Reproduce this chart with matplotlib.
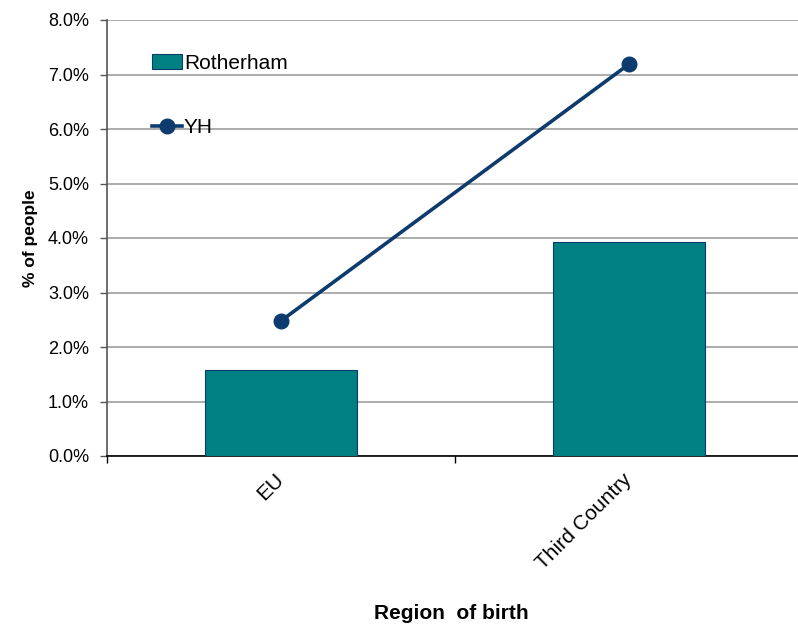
import numpy as np
import matplotlib.pyplot as plt
from matplotlib.ticker import FuncFormatter, FixedLocator

# Data
regions = ["EU", "Third Country"]
rotherham = [1.58, 3.93]
yh = [2.48, 7.19]

teal = "#008080"
navy = "#0D3B6E"
grid_grey = "#A6A6A6"
font = "Liberation Sans"

fig = plt.figure(figsize=(7.98, 6.26), dpi=100)
ax = fig.add_axes([107 / 798, 1 - 456 / 626, (803 - 107) / 798, (456 - 20) / 626])

x = np.arange(len(regions))
bars = ax.bar(x, rotherham, width=0.435, color=teal, edgecolor=navy, linewidth=0.8,
              label="Rotherham", zorder=3)
line, = ax.plot(x, yh, color=navy, linewidth=2.6, marker="o", markersize=10.5,
                label="YH", zorder=4)

ax.set_xlim(-0.5, 1.5)
ax.set_ylim(0, 8)
ax.set_yticks(np.arange(0, 8.01, 1))
ax.yaxis.set_major_formatter(FuncFormatter(lambda v, p: f"{v:.1f}%"))
ax.yaxis.grid(True, color=grid_grey, linewidth=1.3, zorder=0)
ax.set_axisbelow(True)

ax.set_xticks(x)
ax.set_xticklabels(regions, rotation=45, ha="right", va="center",
                   rotation_mode="anchor", fontsize=15, fontfamily=font)
ax.tick_params(axis="x", which="major", length=0, pad=15)
ax.xaxis.set_minor_locator(FixedLocator([-0.5, 0.5, 1.5]))
ax.tick_params(axis="x", which="minor", length=5, width=1, color="black")
ax.tick_params(axis="y", length=5, width=1, color="#555555",
               labelsize=13, pad=8)
for lab in ax.get_yticklabels():
    lab.set_fontfamily(font)

ax.spines["top"].set_visible(False)
ax.spines["right"].set_visible(False)
ax.spines["left"].set_color("#555555")
ax.spines["left"].set_linewidth(1.2)
ax.spines["bottom"].set_color("black")
ax.spines["bottom"].set_linewidth(1.2)

ax.set_ylabel("% of people", fontsize=12.5, fontweight="bold", fontfamily=font)
ax.yaxis.set_label_coords((38 - 107) / 696, 0.5)
ax.set_xlabel("Region  of birth", fontsize=15, fontweight="bold", fontfamily=font)
ax.xaxis.set_label_coords((451 - 107) / 696, (456 - 604) / 436)

ax.legend(handles=[bars, line], loc="upper left", bbox_to_anchor=(0.037, 0.966),
          frameon=False, handlelength=1.45, handletextpad=0.1, labelspacing=2.2,
          prop={"family": font, "size": 15})

plt.savefig("out.png", dpi=100)
